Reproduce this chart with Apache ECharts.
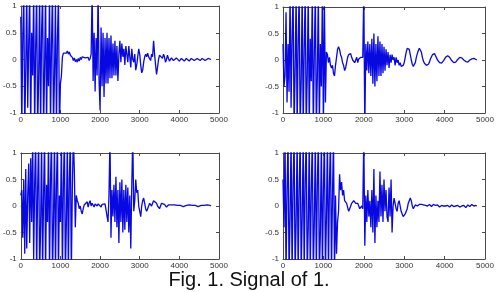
<!DOCTYPE html>
<html>
<head>
<meta charset="utf-8">
<script src="https://cdn.jsdelivr.net/npm/echarts@6/dist/echarts.min.js"></script>
<style>
    html, body { margin: 0; padding: 0; background: #fff; }
    #chart { width: 498px; height: 292px; }
</style>
</head>
<body>
<div id="chart"></div>
<script>
// sample spacing of the signals (x units between two values)
var STEP = 25;

var xTicks = [0, 1000, 2000, 3000, 4000, 5000];
var yTicks = [-1, -0.5, 0, 0.5, 1];
var caption = 'Fig. 1. Signal of 1.';

// values, one value every STEP, 0..4800
var sigTopLeft = [
    0.8, -1.3, 0.4, 1.3, -1.3, -0.2, 1.3, -0.9,
    0.3, 1.3, -1.3, 0.5, -0.3, 1.3, -1.3, 0.2,
    1.3, -1.3, -0.4, 1.3, -1.3, 0.5, 1.3, -1.3,
    -0.2, 1.3, -1.3, 0.4, -0.5, 1.3, -1.3, 0.3,
    1.3, -1.3, -0.3, 1.1, -1.3, 0.4, 1.2, -1.3,
    -0.45, -0.3, 0.05, 0.12, 0.1, 0.15, 0.12, 0.16,
    0.1, 0.14, 0.08, 0.1, 0.04, -0.02, 0.03, -0.04,
    0.0, -0.05, 0.02, -0.03, 0.04, 0.0, 0.05, 0.02,
    0.06, 0.03, 0.05, 0.0, 0.04, -0.02, 0.02, 0.1,
    1.3, -0.4, 0.5, -0.6, 0.4, -0.3, 1.3, -0.4,
    -0.95, 0.6, -0.5, 0.5, -0.7, 0.4, -0.45, 0.5,
    -0.45, 0.4, -0.35, 0.45, -0.35, 0.3, -0.3, 0.35,
    -0.3, 0.25, -0.4, 0.1, 0.35, -0.05, 0.3, 0.05,
    0.2, -0.1, 0.25, 0.1, -0.05, 0.25, 0.05, -0.15,
    0.2, 0.0, -0.05, 0.1, -0.2, -0.1, 0.05, 0.2,
    0.1, -0.1, -0.25, -0.2, -0.05, 0.05, 0.1, 0.05,
    0.12, 0.05, 0.08, -0.02, 0.1, 0.05, 0.35, 0.1,
    -0.1, -0.28, -0.15, 0.0, 0.08, 0.05, 0.1, 0.02,
    0.1, 0.05, -0.05, 0.0, 0.08, 0.02, -0.03, 0.0,
    0.03, 0.02, -0.02, -0.03, 0.0, 0.03, 0.02, 0.0,
    -0.03, -0.02, 0.02, 0.03, 0.0, -0.03, -0.02, 0.02,
    0.03, 0.0, -0.03, -0.02, 0.02, 0.03, 0.0, -0.02,
    -0.03, 0.0, 0.02, 0.02, -0.01, -0.02, 0.0, 0.02,
    0.02, 0.0, -0.02, -0.01, 0.01, 0.02, 0.0, -0.01,
    0.0
];

var sigTopRight = [
    0.3, -0.5, -0.3, 0.9, -0.8, 0.3, -0.6, 1.3,
    -0.9, 0.4, 1.3, -1.3, -0.2, 1.3, -1.3, 0.3,
    1.3, -1.3, -0.4, 1.3, -1.3, 0.2, 1.3, -1.3,
    -0.3, 1.3, -1.3, 0.4, -0.4, 1.3, -1.3, 0.1,
    1.3, -1.3, -0.3, 1.3, -1.3, 0.3, -0.5, 1.3,
    -1.3, 1.1, -0.8, 0.15, 0.1, -0.05, 0.05, -0.1,
    -0.15, -0.1, -0.25, -0.3, -0.1, 0.05, 0.2, 0.25,
    0.2, 0.1, 0.05, -0.05, -0.1, -0.2, -0.15, -0.05,
    0.05, 0.1, 0.08, 0.12, 0.05, 0.0, 0.02, -0.05,
    0.0, 0.05, -0.05, 0.02, 0.0, 0.05, 0.02, 0.05,
    1.3, -1.3, 0.3, -0.2, 0.35, -0.25, 0.3, -0.3,
    0.4, -0.45, 0.5, -0.5, 0.3, -0.4, 0.45, -0.3,
    0.35, -0.3, 0.3, -0.25, 0.25, -0.2, 0.2, -0.1,
    0.15, -0.15, 0.1, -0.05, 0.1, 0.0, 0.05, -0.1,
    0.05, -0.05, 0.0, -0.1, -0.05, -0.12, -0.15, -0.1,
    -0.05, 0.05, 0.15, 0.22, 0.25, 0.2, 0.1, 0.0,
    -0.08, -0.12, -0.1, -0.05, 0.05, 0.12, 0.18, 0.22,
    0.22, 0.15, 0.05, -0.02, -0.06, -0.08, -0.1, -0.1,
    -0.08, -0.04, 0.02, 0.06, 0.1, 0.12, 0.12, 0.08,
    0.04, 0.0, -0.03, -0.05, -0.06, -0.06, -0.04, -0.01,
    0.02, 0.05, 0.07, 0.08, 0.07, 0.05, 0.02, -0.01,
    -0.03, -0.05, -0.05, -0.04, -0.02, 0.01, 0.03, 0.05,
    0.05, 0.04, 0.02, 0.0, -0.02, -0.03, -0.04, -0.04,
    -0.02, 0.0, 0.01, 0.02, 0.03, 0.03, 0.02, 0.01,
    0.0
];

var sigBottomLeft = [
    0.2, 0.3, -0.6, 0.5, -0.9, 0.7, -0.8, 0.2,
    0.8, -0.7, 0.9, -0.3, 1.3, -1.0, 0.4, 1.3,
    -1.3, 0.3, 1.3, -1.3, -0.4, 1.3, -1.3, 0.2,
    1.3, -1.3, 0.4, -0.3, 1.3, -1.3, 0.5, 1.3,
    -1.3, -0.3, 1.3, -1.3, 0.4, 1.3, -1.3, 0.2,
    -0.3, 1.3, -1.3, 0.4, 1.3, -1.3, -0.3, 1.3,
    -1.3, 0.5, 1.3, -1.3, 0.3, 1.3, 0.7, -0.4,
    0.2, 0.1, 0.05, -0.05, 0.0, -0.1, -0.15, -0.05,
    0.02, 0.05, 0.0, 0.08, -0.02, 0.06, 0.1, 0.0,
    0.05, 0.08, -0.02, 0.04, 0.06, 0.0, 0.04, 0.02,
    0.05, -0.02, 0.03, 0.05, 0.0, 0.04, 0.06, 0.02,
    -0.3, 0.2, 1.3, -0.6, 0.3, -0.2, 0.4, -0.3,
    0.55, -0.4, 0.3, -0.7, 0.45, -0.3, 0.5, -0.5,
    0.3, -0.45, 0.4, -0.3, 0.35, -0.5, 0.2, -0.8,
    0.4, 1.3, -0.1, 0.1, 0.5, 0.25, 0.3, 0.0,
    -0.1, -0.2, 0.0, 0.1, 0.15, 0.05, -0.05, -0.1,
    -0.05, 0.0, 0.05, 0.02, 0.0, 0.05, 0.1, 0.12,
    0.1, 0.05, 0.0, -0.03, -0.05, 0.0, 0.05, 0.07,
    0.06, 0.03, 0.0, -0.02, 0.0, 0.02, 0.01, 0.0,
    0.02, 0.0, 0.01, 0.02, 0.0, -0.01, 0.01, 0.02,
    0.0, 0.01, 0.02, 0.01, -0.01, 0.0, 0.02, 0.01,
    0.0, 0.01, 0.02, 0.0, -0.01, 0.01, 0.02, 0.0,
    0.01, 0.02, 0.0, -0.01, 0.01, 0.02, 0.01, 0.0,
    0.02, 0.01, 0.0, 0.01, 0.02, 0.01, 0.0, 0.01,
    0.0
];

var sigBottomRight = [
    0.5, -0.4, 1.3, -1.3, 0.3, 1.3, -1.3, -0.2,
    1.3, -1.3, 0.4, 1.3, -1.3, -0.3, 1.3, -1.3,
    0.3, 1.3, -1.3, -0.2, 1.3, -1.3, 0.5, 1.3,
    -1.3, -0.4, 1.3, -1.3, 0.3, 1.3, -1.3, -0.3,
    1.3, -1.3, 0.4, 1.3, -1.3, -0.5, 1.3, -1.3,
    0.3, 1.3, -1.3, -0.2, 1.3, -1.3, 0.4, 1.3,
    -1.3, 0.2, 1.3, -1.3, 0.2, -0.9, -0.3, -0.1,
    0.6, 0.3, 0.45, 0.2, 0.3, 0.1, 0.12, 0.05,
    0.05, -0.1, -0.05, 0.0, 0.05, 0.08, 0.1, 0.08,
    0.05, 0.02, 0.05, 0.0, -0.05, -0.02, 0.0, -0.05,
    1.3, -0.75, 0.2, -0.3, 0.3, -0.2, 0.1, -0.4,
    0.3, -0.5, 0.7, -0.7, 0.2, -0.4, 0.1, -0.3,
    0.65, -0.2, 0.4, -0.3, 0.5, -0.1, 0.3, -0.2,
    -0.3, 0.35, -0.2, 0.5, -0.5, 0.0, 0.15, 0.05,
    -0.05, -0.1, 0.05, 0.1, 0.0, -0.1, -0.15, -0.2,
    -0.2, -0.15, -0.1, -0.05, 0.05, 0.1, 0.15, 0.1,
    0.0, -0.05, -0.02, 0.02, 0.03, 0.0, 0.02, 0.03,
    0.01, 0.03, 0.0, 0.02, 0.03, 0.01, 0.02, 0.0,
    0.02, 0.03, 0.01, -0.01, 0.02, 0.03, 0.0, 0.01,
    0.03, 0.02, 0.0, -0.02, -0.01, 0.01, 0.02, 0.0,
    -0.02, 0.0, 0.02, 0.01, -0.01, -0.02, 0.0, 0.02,
    0.01, -0.01, -0.02, 0.0, 0.02, 0.01, -0.01, -0.02,
    -0.03, 0.0, 0.02, 0.01, -0.02, -0.03, 0.0, 0.02,
    0.01, -0.01, 0.02, 0.03, 0.01, 0.0, 0.02, 0.01,
    0.0
];

var panels = [
    {data: sigTopLeft, left: 17, top: 6, height: 107},
    {data: sigTopRight, left: 283, top: 7, height: 106},
    {data: sigBottomLeft, left: 17, top: 153, height: 106},
    {data: sigBottomRight, left: 283, top: 153, height: 106}
];

var chart = echarts.init(document.getElementById('chart'), null, {renderer: 'canvas'});

var frameColor = '#4a4a4a';
var labelStyle = {fontFamily: 'Liberation Sans, Arial, sans-serif', fontSize: 8, color: '#333'};

var grids = [];
var xAxes = [];
var yAxes = [];
var series = [];

panels.forEach(function (p, i) {
    grids.push({left: p.left, top: p.top, width: 202, height: p.height});

    // bottom and top x axes (top one only carries ticks, MATLAB box)
    ['bottom', 'top'].forEach(function (pos) {
        xAxes.push({
            gridIndex: i,
            type: 'value',
            position: pos,
            min: xTicks[0],
            max: xTicks[xTicks.length - 1],
            interval: 1000,
            axisLine: {show: true, onZero: false, lineStyle: {color: frameColor, width: 1}},
            axisTick: {show: true, inside: true, length: 3, lineStyle: {color: frameColor}},
            axisLabel: pos === 'bottom'
                ? Object.assign({show: true, margin: 3, formatter: function (v) {
                    return String(v);
                }}, labelStyle)
                : {show: false},
            splitLine: {show: false}
        });
    });

    ['left', 'right'].forEach(function (pos) {
        yAxes.push({
            gridIndex: i,
            type: 'value',
            position: pos,
            min: yTicks[0],
            max: yTicks[yTicks.length - 1],
            interval: 0.5,
            axisLine: {show: true, onZero: false, lineStyle: {color: frameColor, width: 1}},
            axisTick: {show: true, inside: true, length: 3, lineStyle: {color: frameColor}},
            axisLabel: pos === 'left'
                ? Object.assign({show: true, margin: 4}, labelStyle)
                : {show: false},
            splitLine: {show: false}
        });
    });

    series.push({
        type: 'line',
        xAxisIndex: i * 2,
        yAxisIndex: i * 2,
        data: p.data.map(function (v, k) {
            return [k * STEP, v];
        }),
        showSymbol: false,
        clip: true,
        sampling: null,
        lineStyle: {color: '#0808e0', width: 1.3},
        silent: true
    });
});

chart.setOption({
    animation: false,
    backgroundColor: '#fff',
    grid: grids,
    xAxis: xAxes,
    yAxis: yAxes,
    series: series,
    graphic: [{
        type: 'text',
        left: 'center',
        top: 270,
        style: {
            text: caption,
            font: '20px "Liberation Sans", Arial, sans-serif',
            fill: '#111'
        }
    }]
});
</script>
</body>
</html>
